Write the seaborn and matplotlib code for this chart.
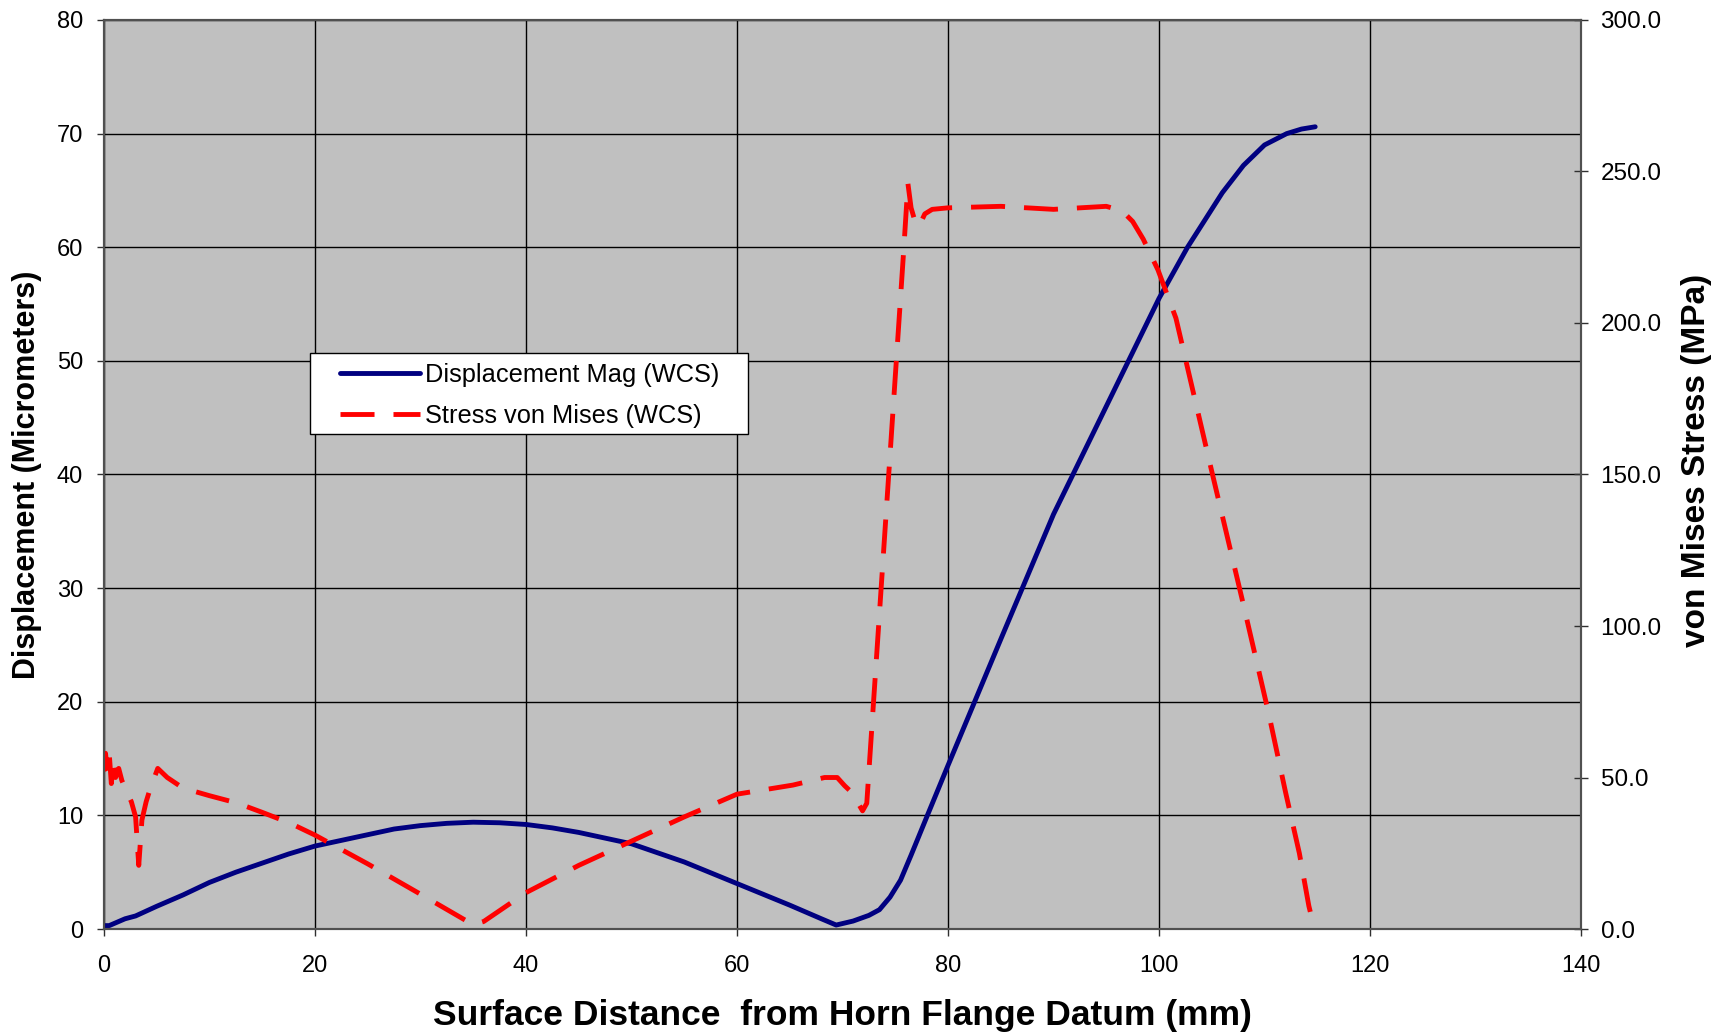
import matplotlib
matplotlib.use("Agg")
import matplotlib.pyplot as plt
import seaborn as sns
import pandas as pd
from matplotlib.patches import Rectangle
from matplotlib.ticker import FixedLocator, FormatStrFormatter

# Displacement magnitude along the horn surface (micrometers)
disp_x = [0, 0.5, 1, 2, 3, 5, 7.5, 10, 12.5, 15, 17.5, 20,
          22.5, 25, 27.5, 30, 32.5, 35, 37.5, 40, 42.5, 45, 47.5, 50,
          55, 60, 65, 68, 69.4, 71, 72.5, 73.5, 74.5, 75.5, 76.5, 78,
          80, 85, 90, 95, 100, 102.7, 106, 108, 110, 112.1, 113.5, 114.8]
disp_um = [0.3, 0.3, 0.5, 0.9, 1.15, 2.0, 3.0, 4.1, 5.0, 5.8, 6.6, 7.3,
           7.8, 8.3, 8.8, 9.1, 9.3, 9.4, 9.35, 9.2, 8.9, 8.5, 8.0, 7.5,
           5.9, 4.0, 2.1, 0.9, 0.35, 0.7, 1.2, 1.7, 2.8, 4.3, 6.5, 9.9,
           14.4, 25.5, 36.5, 46, 55.5, 60, 64.8, 67.2, 69, 70, 70.4, 70.6]

# von Mises stress along the horn surface (MPa)
stress_x = [0.0, 0.15, 0.3, 0.5, 0.7, 0.9, 1.1, 1.4, 1.7,
            2.2, 2.6, 3.0, 3.3, 3.6, 4.0, 4.4, 5.1, 6.0, 7.5,
            10.0, 12.6, 15.0, 17.6, 20.0, 25.0, 30.0, 35.0, 36.0, 40.0,
            45.0, 50.0, 55.0, 60.0, 65.3, 68.3, 69.5, 70.2, 70.9, 71.9,
            72.3, 75.8, 76.2, 76.5, 77.0, 77.4, 77.8, 78.5, 80.0, 85.0,
            90.0, 95.0, 96.5, 97.5, 98.5, 99.9, 101.6, 105.0, 108.0, 110.4,
            112.0, 113.3, 114.2, 114.7]
stress_mpa = [52, 58, 53, 58, 48, 55, 50, 53, 49,
              45, 42, 37, 21, 36, 42, 46.5, 53, 50, 46.5,
              44, 41.6, 38.5, 35, 31, 21.5, 11.5, 1.4, 2.5, 12,
              21, 29, 37, 44.5, 47.5, 50, 50, 47.3, 45, 39,
              41.5, 224, 246, 238, 232, 233, 236, 237.5, 238, 238.5,
              237.5, 238.5, 237, 233.5, 227.7, 217.5, 201.6, 151, 107, 71,
              45, 25, 7.6, 0.5]

x_ticks = list(range(0, 141, 20))
left_ticks = list(range(0, 81, 10))
right_ticks = list(range(0, 301, 50))

disp_df = pd.DataFrame({"dist": disp_x, "disp": disp_um})
stress_df = pd.DataFrame({"dist": stress_x, "stress": stress_mpa})

sns.set_style("ticks")
plt.rcParams["font.family"] = ["Liberation Sans", "DejaVu Sans"]
plt.rcParams["text.color"] = "black"
plt.rcParams["axes.labelcolor"] = "black"
plt.rcParams["xtick.labelcolor"] = "black"
plt.rcParams["ytick.labelcolor"] = "black"

fig = plt.figure(figsize=(17.18, 10.35), dpi=100)
ax = fig.add_axes([0.0605, 0.1024, 0.8598, 0.8783])
ax2 = ax.twinx()

ax.set_facecolor("#C0C0C0")
ax.set_zorder(1)
ax2.set_zorder(2)
ax2.patch.set_visible(False)

sns.lineplot(data=disp_df, x="dist", y="disp", ax=ax, color="#000080",
             linewidth=3.5, estimator=None, sort=False,
             label="Displacement Mag (WCS)")
sns.lineplot(data=stress_df, x="dist", y="stress", ax=ax2, color="#FF0000",
             linewidth=3.5, estimator=None, sort=False,
             dashes=False, label="Stress von Mises (WCS)")
ax2.lines[0].set_dashes((7.0, 3.9))
ax2.lines[0].set_dash_capstyle("butt")
ax.lines[0].set_solid_capstyle("round")

for a in (ax, ax2):
    if a.get_legend() is not None:
        a.get_legend().remove()

ax.set_xlim(0, 140)
ax.set_ylim(0, 80)
ax2.set_ylim(0, 300)
ax.xaxis.set_major_locator(FixedLocator(x_ticks))
ax.yaxis.set_major_locator(FixedLocator(left_ticks))
ax2.yaxis.set_major_locator(FixedLocator(right_ticks))
ax2.yaxis.set_major_formatter(FormatStrFormatter("%.1f"))

ax.grid(True, color="black", linewidth=1.0)
ax.set_axisbelow(True)

ax.tick_params(axis="x", direction="out", length=5, width=1, color="#303030",
               labelsize=17, pad=14, labelcolor="black")
ax.tick_params(axis="y", direction="out", length=5, width=1, color="#303030",
               labelsize=17, pad=10, labelcolor="black")
ax2.tick_params(axis="y", direction="inout", length=10, width=1, color="#303030",
                labelsize=17.5, pad=9, labelcolor="black")

for a in (ax, ax2):
    for s in a.spines.values():
        s.set_color("#505050")
        s.set_linewidth(1.5)

ax.set_xlabel("Surface Distance  from Horn Flange Datum (mm)",
              fontsize=25.5, fontweight="bold", labelpad=15.5, color="black")
ax.set_ylabel("Displacement (Micrometers)", fontsize=22, fontweight="bold",
              color="black")
ax2.set_ylabel("von Mises Stress (MPa)", fontsize=24, fontweight="bold",
               color="black")
ax.yaxis.set_label_coords(-0.042, 0.5)
ax2.yaxis.set_label_coords(1.0675, 0.516)

# legend box drawn as a plain white rectangle, entries placed inside
box = Rectangle((0.1395, 0.5446), 0.2965, 0.0891, transform=ax2.transAxes,
                facecolor="white", edgecolor="black", linewidth=1.0, zorder=5)
ax2.add_patch(box)
handles = ax.get_lines()[:1] + ax2.get_lines()[:1]
leg = ax2.legend(handles, [h.get_label() for h in handles],
                 loc="upper left", bbox_to_anchor=(0.1598, 0.6225),
                 borderaxespad=0, borderpad=0, fontsize=18.3,
                 handlelength=3.15, handletextpad=0.2, labelspacing=0.67,
                 frameon=False, labelcolor="black")
leg.set_zorder(6)

fig.savefig("out.png", dpi=100)
